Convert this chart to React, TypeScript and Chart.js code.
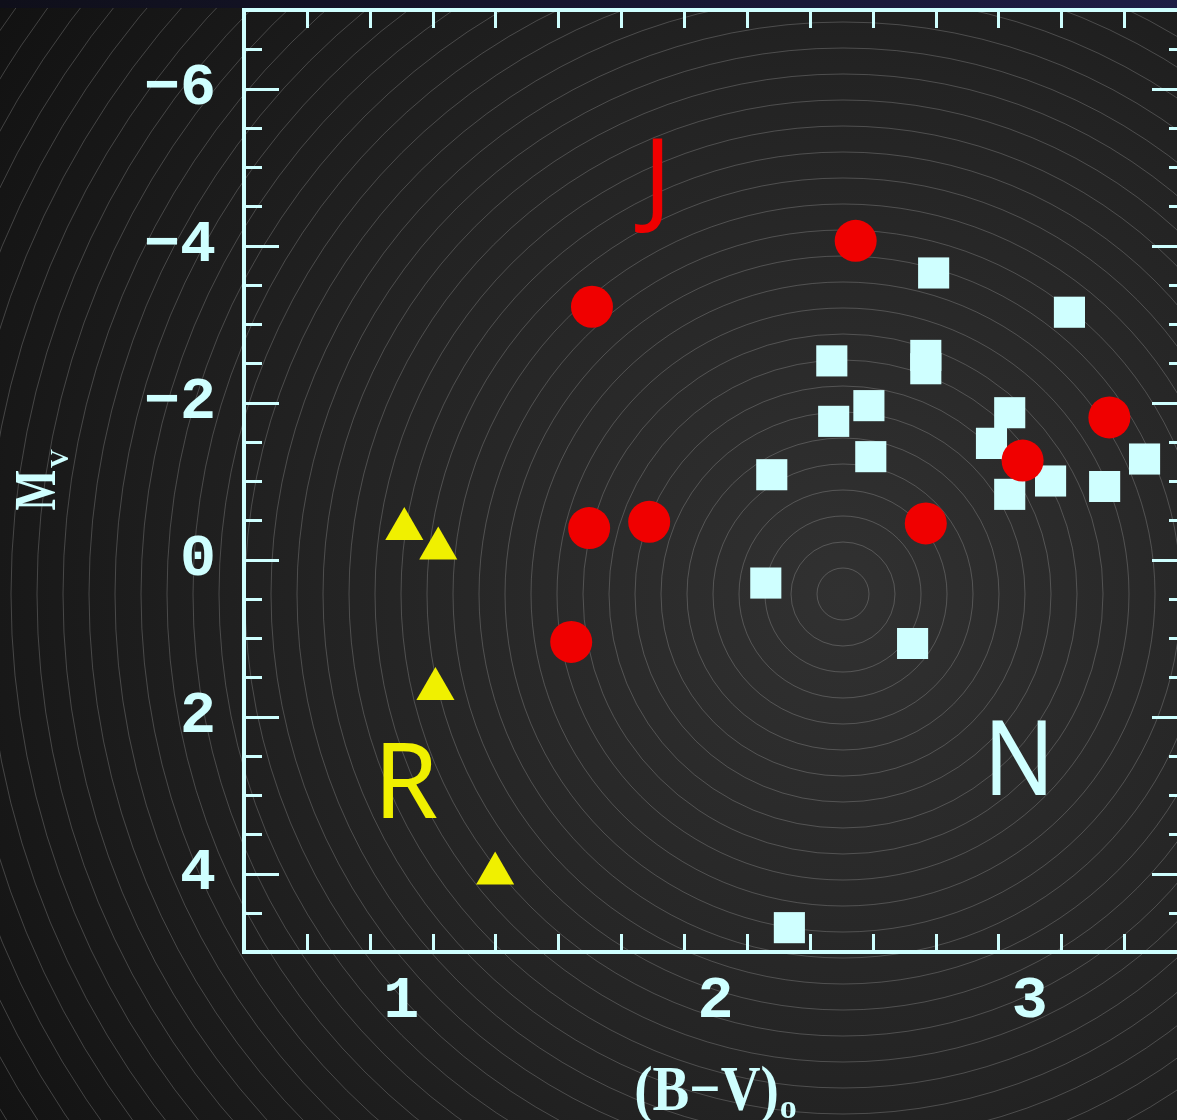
import React, { useEffect, useRef } from "react";
import { Chart, registerables } from "chart.js";

Chart.register(...registerables);

// ---- data ----
const X_TICKS = [1, 2, 3];
const Y_TICKS = [-6, -4, -2, 0, 2, 4];

// R stars (yellow triangles)
const R_BV = [1.01, 1.118, 1.109, 1.299];
const R_MV = [-0.39, -0.14, 1.65, 4.0];

// J stars (red circles)
const J_BV = [1.607, 2.446, 1.598, 1.789, 1.541, 2.669, 2.977, 3.253];
const J_MV = [-3.22, -4.06, -0.4, -0.48, 1.05, -0.46, -1.26, -1.81];

// N stars (cyan squares)
const N_BV = [2.694, 3.126, 2.37, 2.669, 2.669, 2.488, 2.376, 2.494, 2.179, 2.936, 2.878, 3.066, 2.936, 3.238, 3.365, 2.16, 2.627, 2.235];
const N_MV = [-3.65, -3.15, -2.53, -2.6, -2.43, -1.96, -1.76, -1.31, -1.08, -1.87, -1.48, -1.0, -0.83, -0.93, -1.28, 0.3, 1.07, 4.69];

// group labels
const GROUP_LABELS = ["J", "R", "N"];
const GROUP_LABEL_BV = [1.815, 1.015, 2.966];
const GROUP_LABEL_MV = [-4.41, 3.29, 3.0];

const X_MIN = 0.5;
const X_MAX = 3.5;
const Y_MIN = -7;
const Y_MAX = 5;
const X_MINOR_STEP = 0.2;
const Y_MINOR_STEP = 0.5;
const Y_MAJOR_STEP = 2;

// ---- styles ----
const AXIS = "#cfffff";
const RED = "#f00000";
const YELLOW = "#f0f000";
const CYAN = "#cfffff";
const GROUP_COLORS = [RED, YELLOW, CYAN];
const GROUP_SCALE_X = [1, 1, 0.9];
const TICK_FONT = "Liberation Mono";

const W = 1200;
const H = 1120;

const toPts = (xs: number[], ys: number[]) => xs.map((x, i) => ({ x, y: ys[i] }));

const backgroundPlugin = {
  id: "bgRings",
  beforeDraw(chart: any) {
    const ctx = chart.ctx;
    ctx.save();
    const cx = 843;
    const cy = 594;
    const g = ctx.createRadialGradient(cx, cy, 0, cx, cy, 1050);
    g.addColorStop(0, "#313131");
    g.addColorStop(0.5, "#232323");
    g.addColorStop(1, "#111111");
    ctx.fillStyle = g;
    ctx.fillRect(0, 0, W, H);
    ctx.strokeStyle = "rgba(200,200,200,0.26)";
    ctx.lineWidth = 1;
    for (let r = 26; r < 1500; r += 26) {
      ctx.beginPath();
      ctx.arc(cx, cy, r, 0, Math.PI * 2);
      ctx.stroke();
    }
    const lg = ctx.createLinearGradient(0, 0, W, 0);
    lg.addColorStop(0, "#0f0f1a");
    lg.addColorStop(1, "#1e1e46");
    ctx.fillStyle = lg;
    ctx.fillRect(0, 0, W, 8);
    ctx.restore();
  },
};

const framePlugin = {
  id: "frame",
  beforeDatasetsDraw(chart: any) {
    const ctx = chart.ctx;
    const xs = chart.scales.x;
    const ys = chart.scales.y;
    const { left, right, top, bottom } = chart.chartArea;
    ctx.save();
    ctx.strokeStyle = AXIS;
    ctx.lineCap = "butt";
    ctx.lineWidth = 3;
    const line = (x1: number, y1: number, x2: number, y2: number) => {
      ctx.beginPath();
      ctx.moveTo(x1, y1);
      ctx.lineTo(x2, y2);
      ctx.stroke();
    };
    const nx = Math.round((X_MAX - X_MIN) / X_MINOR_STEP);
    for (let i = 1; i < nx; i++) {
      const v = X_MIN + i * X_MINOR_STEP;
      const major = Math.abs(v - Math.round(v)) < 1e-6;
      const len = major ? 35 : 18;
      const px = Math.round(xs.getPixelForValue(v)) + 0.5;
      line(px, bottom, px, bottom - len);
      line(px, top, px, top + len);
    }
    const ny = Math.round((Y_MAX - Y_MIN) / Y_MINOR_STEP);
    for (let i = 1; i < ny; i++) {
      const v = Y_MIN + i * Y_MINOR_STEP;
      const major = Math.abs(v / Y_MAJOR_STEP - Math.round(v / Y_MAJOR_STEP)) < 1e-6;
      const len = major ? 35 : 18;
      const py = Math.round(ys.getPixelForValue(v)) + 0.5;
      line(left, py, left + len, py);
      line(right, py, right - len, py);
    }
    ctx.lineWidth = 4;
    ctx.strokeRect(left, top, right - left, bottom - top);
    ctx.restore();
  },
};

const textPlugin = {
  id: "texts",
  afterDraw(chart: any) {
    const ctx = chart.ctx;
    const xs = chart.scales.x;
    const ys = chart.scales.y;
    const { left, right } = chart.chartArea;
    ctx.save();
    // group labels
    ctx.textAlign = "center";
    ctx.textBaseline = "alphabetic";
    GROUP_LABELS.forEach((t, i) => {
      ctx.save();
      ctx.translate(xs.getPixelForValue(GROUP_LABEL_BV[i]), ys.getPixelForValue(GROUP_LABEL_MV[i]));
      ctx.scale(GROUP_SCALE_X[i], 1);
      ctx.font = '104px "Noto Sans"';
      ctx.fillStyle = GROUP_COLORS[i];
      ctx.fillText(t, 0, 0);
      ctx.restore();
    });
    // x title: (B−V)o
    ctx.fillStyle = AXIS;
    const cx = (left + right) / 2 - 9;
    ctx.save();
    ctx.translate(cx, 1110);
    ctx.scale(0.86, 1);
    ctx.font = 'bold 64px "Liberation Serif"';
    ctx.textAlign = "center";
    ctx.fillText("(B\u2212V)", 0, 0);
    const wMain = ctx.measureText("(B\u2212V)").width * 0.86;
    ctx.restore();
    ctx.font = 'bold 34px "Liberation Serif"';
    ctx.textAlign = "left";
    ctx.fillText("o", cx + wMain / 2 + 1, 1118);
    // y title: M_V rotated
    ctx.save();
    ctx.translate(55, 490);
    ctx.rotate(-Math.PI / 2);
    ctx.scale(0.72, 1);
    ctx.font = 'bold 60px "Liberation Serif"';
    ctx.textAlign = "center";
    ctx.fillText("M", 0, 0);
    ctx.restore();
    ctx.save();
    ctx.translate(55, 490);
    ctx.rotate(-Math.PI / 2);
    ctx.font = 'bold 26px "Liberation Serif"';
    ctx.textAlign = "left";
    ctx.fillText("V", 22, 13);
    ctx.restore();
    ctx.restore();
  },
};

export default function App() {
  const ref = useRef<HTMLCanvasElement | null>(null);
  useEffect(() => {
    if (!ref.current) return;
    const chart = new Chart(ref.current, {
      type: "scatter",
      data: {
        datasets: [
          {
            label: "N",
            data: toPts(N_BV, N_MV),
            pointStyle: "rect",
            pointRadius: 22,
            pointBackgroundColor: CYAN,
            pointBorderWidth: 0,
            borderWidth: 0,
            order: 2,
          },
          {
            label: "J",
            data: toPts(J_BV, J_MV),
            pointStyle: "circle",
            pointRadius: 21,
            pointBackgroundColor: RED,
            pointBorderWidth: 0,
            borderWidth: 0,
            order: 1,
          },
          {
            label: "R",
            data: toPts(R_BV, R_MV),
            pointStyle: "triangle",
            pointRadius: 22,
            pointBackgroundColor: YELLOW,
            pointBorderWidth: 0,
            borderWidth: 0,
            order: 0,
          },
        ],
      },
      options: {
        animation: false,
        responsive: false,
        devicePixelRatio: 1,
        events: [],
        layout: { autoPadding: false, padding: { top: 10, right: 13, left: 0, bottom: 0 } },
        plugins: { legend: { display: false }, tooltip: { enabled: false } },
        scales: {
          x: {
            type: "linear",
            min: X_MIN,
            max: X_MAX,
            grid: { display: false, drawTicks: false },
            border: { display: false },
            afterBuildTicks: (s: any) => {
              s.ticks = X_TICKS.map((v) => ({ value: v }));
            },
            afterFit: (s: any) => {
              s.height = 168;
              s.paddingLeft = 0;
              s.paddingRight = 0;
            },
            ticks: {
              color: AXIS,
              padding: 14,
              font: { family: TICK_FONT, size: 60, weight: "bold" },
              callback: (v: any) => String(v),
            },
          },
          y: {
            type: "linear",
            min: Y_MIN,
            max: Y_MAX,
            reverse: true,
            grid: { display: false, drawTicks: false },
            border: { display: false },
            afterBuildTicks: (s: any) => {
              s.ticks = Y_TICKS.map((v) => ({ value: v }));
            },
            afterFit: (s: any) => {
              s.width = 244;
              s.paddingTop = 0;
              s.paddingBottom = 0;
            },
            ticks: {
              color: AXIS,
              padding: 28,
              font: { family: TICK_FONT, size: 60, weight: "bold", lineHeight: 0.3 },
              callback: (v: any) => (v < 0 ? "\u2212" + Math.abs(v) : String(v)),
            },
          },
        },
      },
      plugins: [backgroundPlugin, framePlugin, textPlugin],
    } as any);
    return () => chart.destroy();
  }, []);
  return (
    <div
      style={{
        position: "fixed",
        left: 0,
        top: 0,
        width: 1177,
        height: 1120,
        overflow: "hidden",
        background: "#151515",
      }}
    >
      <canvas ref={ref} width={W} height={H} style={{ display: "block", width: W, height: H }} />
    </div>
  );
}
